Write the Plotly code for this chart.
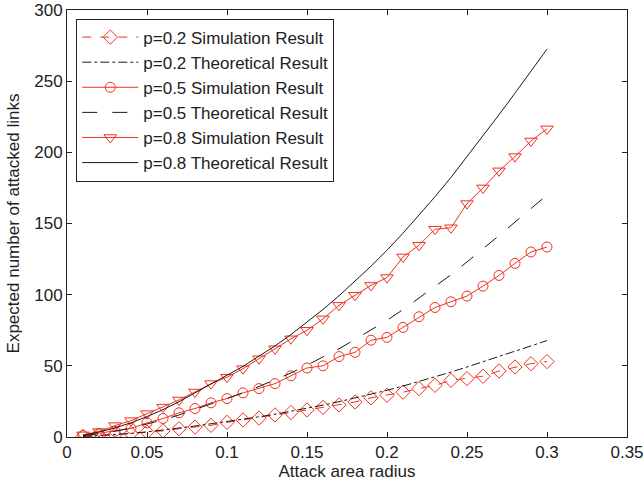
import plotly.graph_objects as go

radius = [0.01, 0.02, 0.03, 0.04, 0.05, 0.06, 0.07, 0.08, 0.09, 0.10,
          0.11, 0.12, 0.13, 0.14, 0.15, 0.16, 0.17, 0.18, 0.19, 0.20,
          0.21, 0.22, 0.23, 0.24, 0.25, 0.26, 0.27, 0.28, 0.29, 0.30]

sim_p02 = [0.4, 1.0, 1.6, 2.5, 3.5, 4.3, 5.8, 7.0, 8.2, 10.3,
           12.0, 13.3, 15.5, 17.2, 19.0, 20.8, 22.5, 24.6, 27.5, 29.3,
           31.5, 34.0, 36.3, 39.8, 41.0, 42.7, 46.4, 49.2, 51.5, 53.0]
theo_p02 = [0.3, 0.9, 1.6, 2.5, 3.6, 4.8, 6.2, 7.7, 9.3, 10.8,
            12.4, 14.2, 16.0, 18.0, 20.2, 22.4, 24.8, 27.4, 30.0, 32.8,
            35.8, 39.0, 42.2, 45.6, 49.2, 52.8, 56.6, 60.4, 64.0, 67.8]
sim_p05 = [1.0, 2.5, 4.0, 6.0, 10.0, 13.0, 17.0, 20.0, 24.0, 27.0,
           31.0, 34.0, 37.5, 43.0, 48.5, 50.0, 56.5, 59.5, 68.0, 70.0,
           77.0, 84.5, 91.0, 95.0, 99.0, 106.0, 113.5, 122.0, 130.0, 133.5]
theo_p05 = [0.8, 2.2, 4.0, 6.3, 9.0, 12.0, 15.5, 19.3, 23.3, 27.0,
            31.0, 35.5, 40.0, 45.0, 50.5, 56.0, 62.0, 68.5, 75.0, 82.0,
            89.5, 97.5, 105.5, 114.0, 123.0, 132.0, 141.5, 151.0, 160.5, 170.0]
sim_p08 = [1.5, 3.8, 8.0, 11.5, 16.4, 21.0, 26.0, 31.6, 37.5, 42.0,
           48.0, 55.0, 62.0, 69.0, 75.0, 83.0, 92.5, 99.6, 106.5, 112.0,
           126.5, 134.7, 146.0, 147.0, 164.0, 175.0, 187.0, 197.0, 208.0, 216.5]
theo_p08 = [1.3, 3.5, 6.4, 10.0, 14.4, 19.2, 24.8, 31.0, 37.0, 43.2,
            49.6, 56.8, 64.0, 72.0, 80.8, 89.6, 99.2, 109.6, 120.0, 131.2,
            143.2, 156.0, 168.8, 182.4, 196.8, 211.2, 226.4, 241.6, 256.8, 272.5]

names = ["p=0.2 Simulation Result", "p=0.2 Theoretical Result",
         "p=0.5 Simulation Result", "p=0.5 Theoretical Result",
         "p=0.8 Simulation Result", "p=0.8 Theoretical Result"]

x_ticks = [0, 0.05, 0.1, 0.15, 0.2, 0.25, 0.3, 0.35]
x_tick_text = ["0", "0.05", "0.1", "0.15", "0.2", "0.25", "0.3", "0.35"]
y_ticks = [0, 50, 100, 150, 200, 250, 300]

RED = "#f0321e"
BLK = "#1a1a1a"
FS = 17

fig = go.Figure()
fig.add_trace(go.Scatter(x=radius, y=sim_p02, name=names[0], mode="lines+markers",
                         line=dict(color=RED, width=1, dash="dash"),
                         marker=dict(symbol="diamond-open", size=11, color=RED, line=dict(width=1))))
fig.add_trace(go.Scatter(x=radius, y=theo_p02, name=names[1], mode="lines",
                         line=dict(color=BLK, width=1, dash="dashdot")))
fig.add_trace(go.Scatter(x=radius, y=sim_p05, name=names[2], mode="lines+markers",
                         line=dict(color=RED, width=1),
                         marker=dict(symbol="circle-open", size=10, color=RED, line=dict(width=1))))
fig.add_trace(go.Scatter(x=radius, y=theo_p05, name=names[3], mode="lines",
                         line=dict(color=BLK, width=1, dash="longdash")))
fig.add_trace(go.Scatter(x=radius, y=sim_p08, name=names[4], mode="lines+markers",
                         line=dict(color=RED, width=1),
                         marker=dict(symbol="triangle-down-open", size=11, color=RED, line=dict(width=1))))
fig.add_trace(go.Scatter(x=radius, y=theo_p08, name=names[5], mode="lines",
                         line=dict(color=BLK, width=1)))

axis_common = dict(showline=True, linecolor="#222", linewidth=1, mirror="ticks",
                   ticks="inside", ticklen=5, tickcolor="#222", showgrid=False,
                   zeroline=False, automargin=False, ticklabeloverflow="allow",
                   tickfont=dict(size=FS, color="#222"))

fig.update_layout(
    width=643, height=487,
    margin=dict(l=67, r=16, t=10, b=50),
    paper_bgcolor="white", plot_bgcolor="white",
    font=dict(family="Liberation Sans, Arial, sans-serif", size=FS, color="#222"),
    xaxis=dict(range=[0, 0.35], tickvals=x_ticks, ticktext=x_tick_text,
               title=dict(text="Attack area radius", font=dict(size=FS), standoff=2),
               **axis_common),
    yaxis=dict(range=[0, 300], tickvals=y_ticks,
               title=dict(text="Expected number of attacked links", font=dict(size=FS), standoff=10),
               **axis_common),
    legend=dict(x=0.0166, y=0.98, xanchor="left", yanchor="top",
                bgcolor="white", bordercolor="#222", borderwidth=1,
                font=dict(size=FS, color="#222"), itemwidth=56),
    showlegend=True,
)

fig.write_html("out.html", config={"displayModeBar": False},
               post_script="document.body.style.margin='0';document.body.style.overflow='hidden';")
